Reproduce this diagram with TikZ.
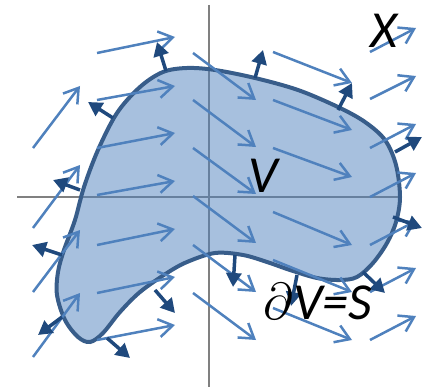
\documentclass[tikz,border=0pt]{standalone}
\usepackage{fontspec}
\usepackage{graphicx}
\usepackage{xcolor}
\usepackage{tikz}
\usetikzlibrary{arrows.meta}
\newfontfamily\labelfont{Carlito}

\definecolor{fieldblue}{HTML}{4F81BD}
\definecolor{edgeblue}{HTML}{385D8A}
\definecolor{normalblue}{HTML}{1F497D}
\definecolor{axisgray}{HTML}{808080}

\begin{document}
\begin{tikzpicture}[
  x=1pt, y=-1pt,
  axis/.style={draw=axisgray, line width=2pt},
  blob/.style={draw=edgeblue, line width=4pt, fill=fieldblue, fill opacity=0.5},
  field/.style={draw=fieldblue, line width=2.5pt, -{Straight Barb[length=14pt,width=18pt]}},
  normal/.style={draw=normalblue, line width=3.5pt, -{Triangle[length=14pt,width=15pt]}},
  lbl/.style={font=\labelfont\itshape\fontsize{52}{52}\selectfont, inner sep=0pt},
]
\useasboundingbox (0,0) rectangle (430,387);

% axes
\draw[axis] (17,197) -- (400,197);
\draw[axis] (209,5) -- (209,387);

% the volume V
\draw[blob] plot[smooth cycle, tension=0.55] coordinates {
  (187,68) (215,70) (255,78) (298,90) (338,107) (365,122) (385,140)
  (396,165) (400,197) (396,222) (387,243) (373,263) (357,277) (340,280)
  (317,278) (290,270) (267,262) (243,255) (215,253) (187,262) (167,273)
  (140,292) (120,312) (103,333) (90,342) (78,337) (65,320) (57,295)
  (58,272) (64,250) (75,220) (84,187) (98,150) (117,113) (140,87) (163,72)};

% vector field X
\draw[field] (33,148) -- (80,86);
\draw[field] (33,228) -- (80,165);
\draw[field] (33,292) -- (80,230);
\draw[field] (33,357) -- (80,293);

\draw[field] (97,53) -- (175,37);
\draw[field] (97,100) -- (175,86);
\draw[field] (97,148) -- (175,133);
\draw[field] (97,195) -- (175,181);
\draw[field] (97,245) -- (175,229);
\draw[field] (97,293) -- (175,277);
\draw[field] (97,340) -- (175,325);

\draw[field] (193,53) -- (256,100);
\draw[field] (193,100) -- (256,147);
\draw[field] (193,148) -- (256,194);
\draw[field] (193,196) -- (256,243);
\draw[field] (193,245) -- (256,292);
\draw[field] (193,293) -- (256,340);

\draw[field] (273,52) -- (352,83);
\draw[field] (273,100) -- (352,130);
\draw[field] (273,148) -- (352,177);
\draw[field] (273,212) -- (352,245);
\draw[field] (273,260) -- (352,292);
\draw[field] (273,308) -- (352,340);

\draw[field] (370,52) -- (416,28);
\draw[field] (370,99) -- (416,76);
\draw[field] (370,148) -- (416,124);
\draw[field] (370,197) -- (416,173);
\draw[field] (370,245) -- (416,221);
\draw[field] (370,292) -- (416,268);
\draw[field] (370,340) -- (416,316);

% outward normals on the surface
\draw[normal] (166,71) -- (157,42);
\draw[normal] (113,118) -- (88,102);
\draw[normal] (80,190) -- (53,180);
\draw[normal] (255,78) -- (263,50);
\draw[normal] (338,110) -- (352,83);
\draw[normal] (395,152) -- (422,137);
\draw[normal] (393,217) -- (422,228);
\draw[normal] (62,255) -- (32,245);
\draw[normal] (62,317) -- (38,335);
\draw[normal] (107,338) -- (130,358);
\draw[normal] (155,290) -- (175,313);
\draw[normal] (235,255) -- (233,287);
\draw[normal] (297,275) -- (291,306);
\draw[normal] (363,272) -- (385,293);

% labels
\node[lbl] (fieldname) at (384,31) {X};
\node[lbl] (vol) at (263,176) {V};
\node[lbl] (surf) at (318,302) {\scalebox{2.09}{$\partial$}V=S};
\end{tikzpicture}
\end{document}
